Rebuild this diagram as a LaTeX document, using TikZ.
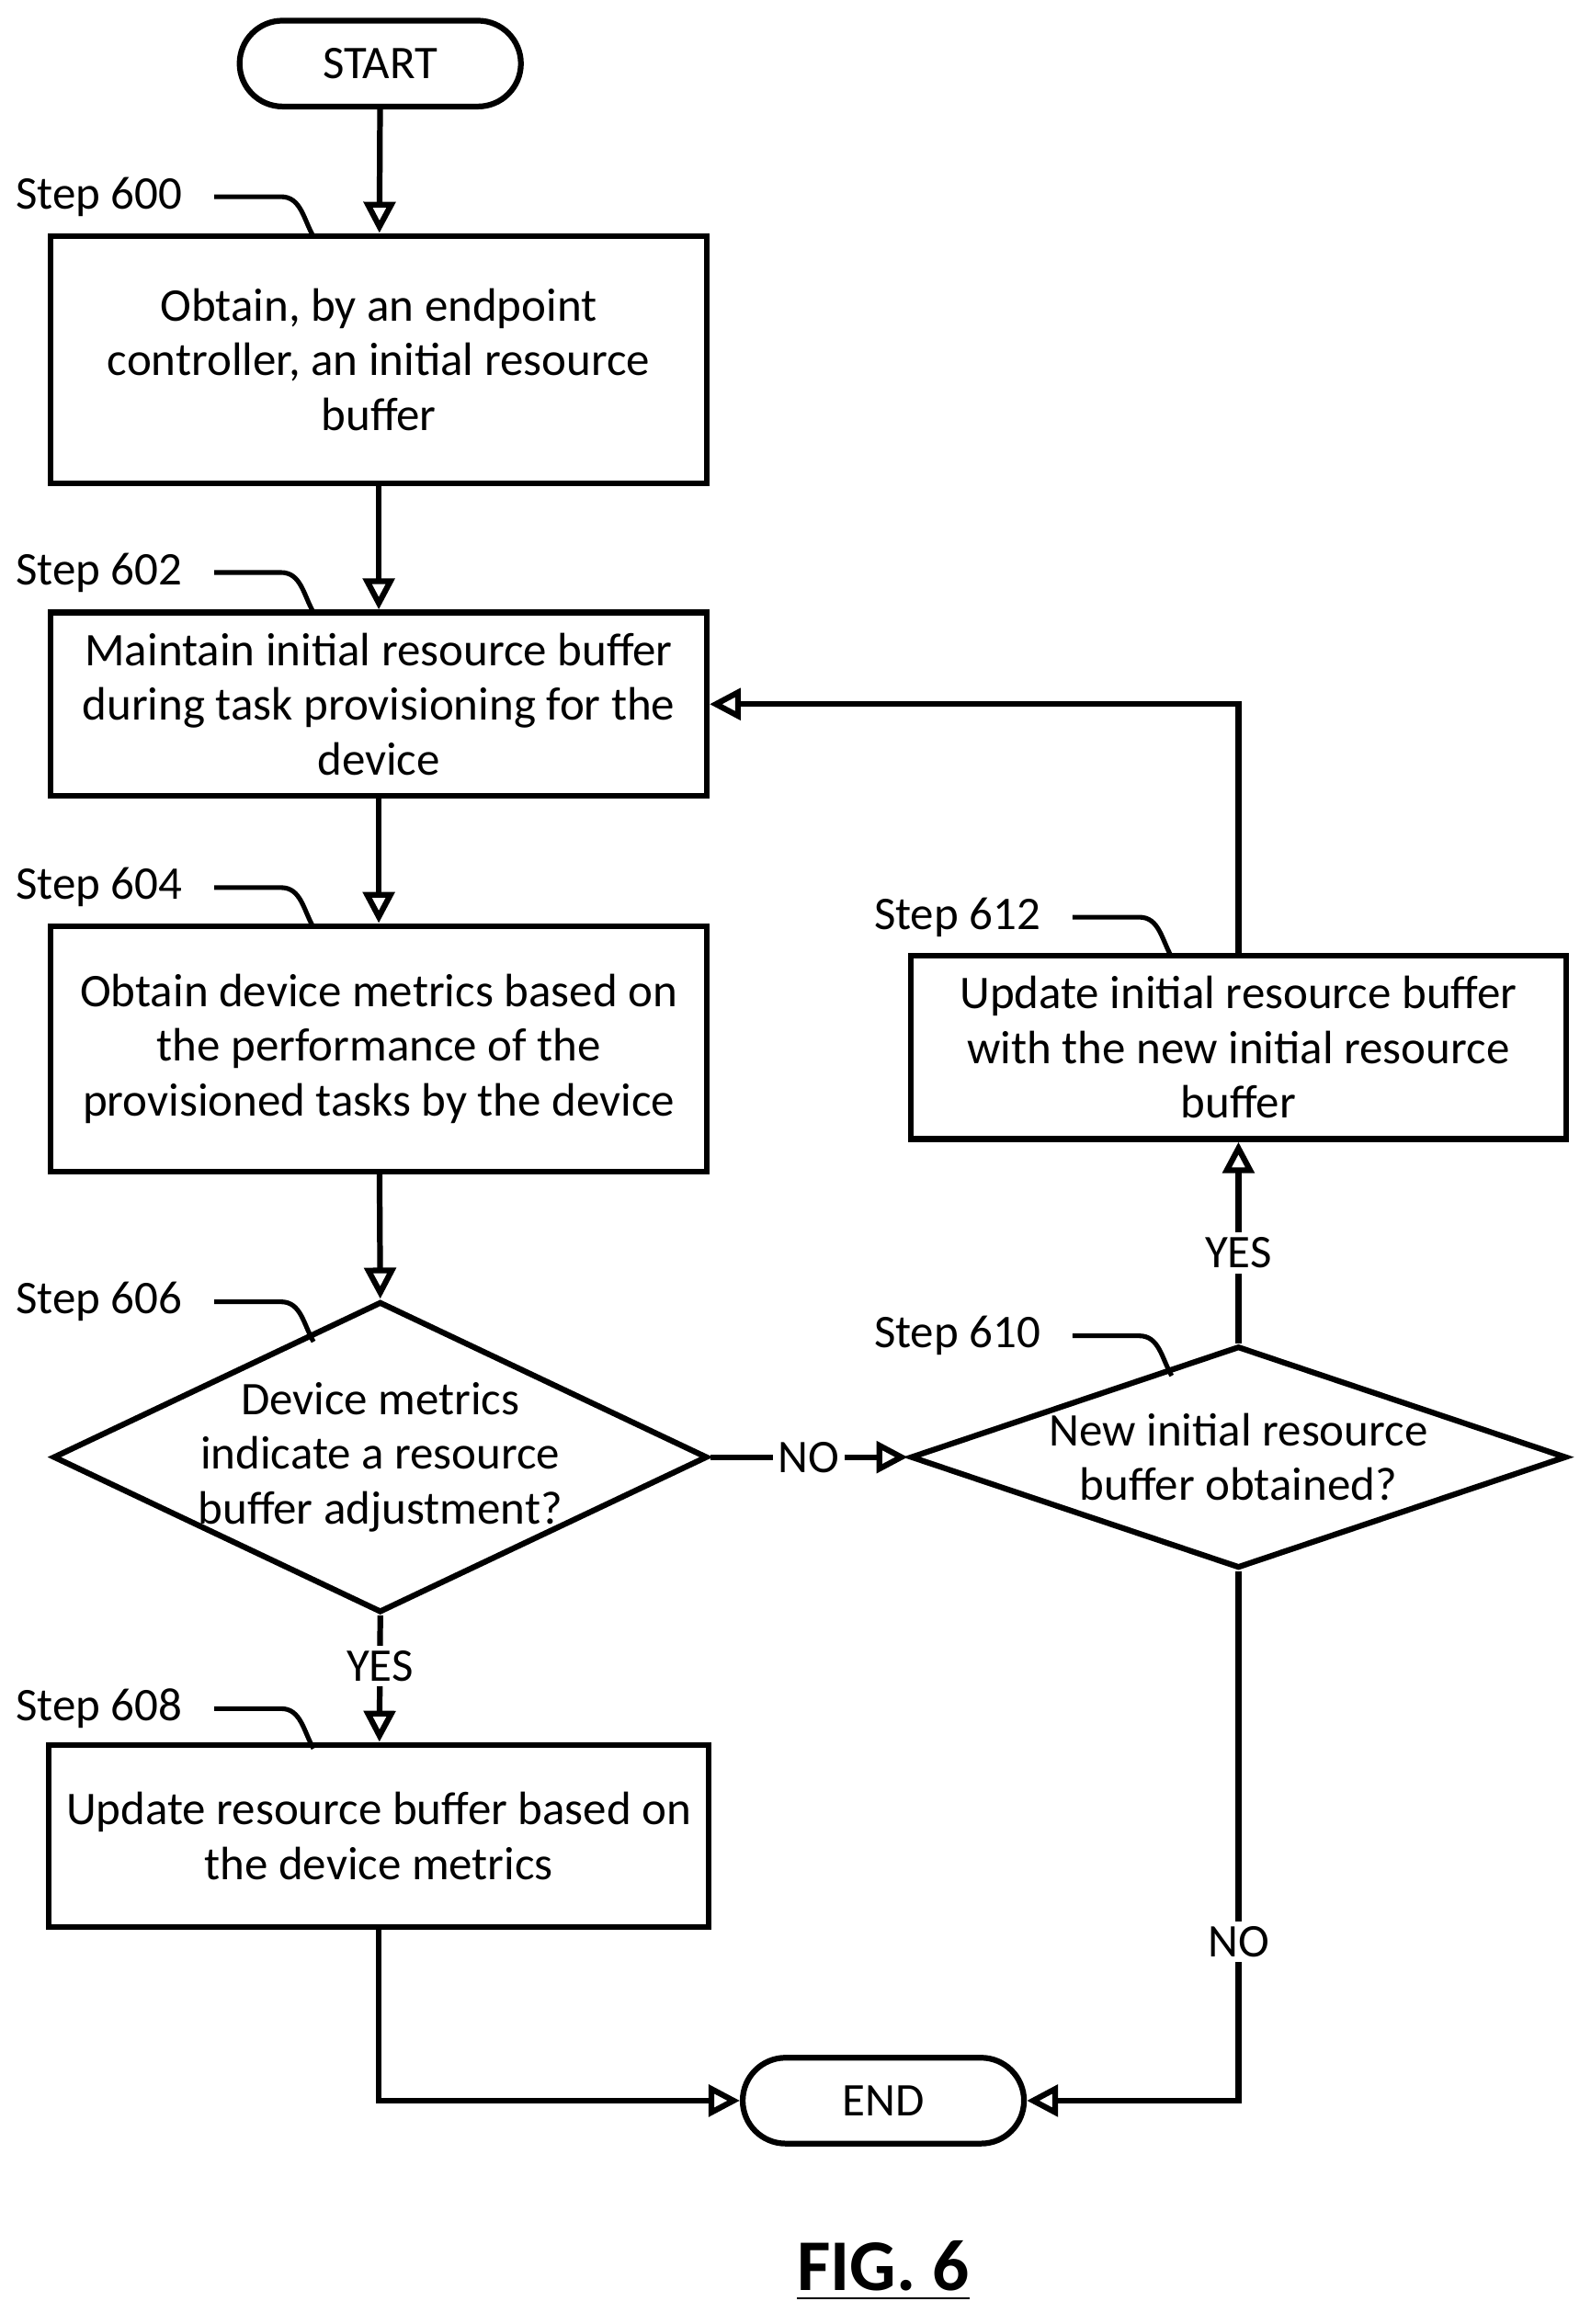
\documentclass[tikz,border=0pt]{standalone}
\usepackage{fontspec}
\setmainfont{Carlito}
\usetikzlibrary{shapes.geometric,arrows.meta}
\begin{document}
\begin{tikzpicture}[x=0.01cm,y=-0.01cm,line width=1.1pt,
  every node/.style={font=\fontsize{9}{10.5}\selectfont},
  box/.style={shape=rectangle,draw,minimum width=4.43cm,align=center},
  term/.style={shape=rectangle,rounded corners=0.29cm,draw,minimum width=1.9cm,minimum height=0.58cm},
  dec/.style={shape=diamond,draw,align=center,inner sep=-7pt},
  flow/.style={-{Triangle[open,length=6pt,width=6pt]}},
  lab/.style={fill=white,inner sep=1pt}]
\useasboundingbox (0,0) rectangle (1075,1571);

\path (257,43) node (Start) [term] {START};
\path (256,243) node (S600) [box,minimum height=1.67cm] {Obtain, by an endpoint\\controller, an initial resource\\buffer};
\path (256,476) node (S602) [box,minimum height=1.24cm] {Maintain initial resource buffer\\during task provisioning for the\\device};
\path (256,709) node (S604) [box,minimum height=1.66cm] {Obtain device metrics based on\\the performance of the\\provisioned tasks by the device};
\path (257,985) node (S606) [dec,minimum width=4.42cm,minimum height=2.1cm,aspect=2.1] {Device metrics\\indicate a resource\\buffer adjustment?};
\path (256,1241) node (S608) [box,minimum height=1.23cm] {Update resource buffer based on\\the device metrics};
\path (597,1420) node (End) [term] {END};
\path (837,985) node (S610) [dec,minimum width=4.43cm,minimum height=1.5cm,aspect=2.95] {New initial resource\\buffer obtained?};
\path (837,708) node (S612) [box,minimum height=1.24cm] {Update initial resource buffer\\with the new initial resource\\buffer};

% step labels
\foreach \n/\x/\y in {600/67/133,602/67/387,604/67/600,606/67/880,608/67/1155,612/647/620,610/647/903}
  {\path (\x,\y) node (L\n) {Step \n};
   \draw[line width=0.9pt] (L\n.east) ++(8,0) -- ++(45,0) to[out=0,in=120] ++(22,27);}

\draw[flow] (Start) -- (S600);
\draw[flow] (S600) -- (S602);
\draw[flow] (S602) -- (S604);
\draw[flow] (S604) -- (S606.north);
\draw[flow] (S606.south) -- node[lab,pos=0.4] {YES} (S608);
\draw[flow] (S606.east) -- node[lab] {NO} (S610.west);
\draw[flow] (S610.north) -- node[lab,pos=0.45] {YES} (S612);
\draw[flow] (S612.north) |- (S602.east);
\draw[flow] (S608.south) |- (End.west);
\draw[flow] (S610.south) |- node[lab,pos=0.35] {NO} (End.east);

\path (597,1535) node (Fig) {\fontsize{14}{16}\selectfont\bfseries\underline{FIG. 6}};
\end{tikzpicture}
\end{document}
